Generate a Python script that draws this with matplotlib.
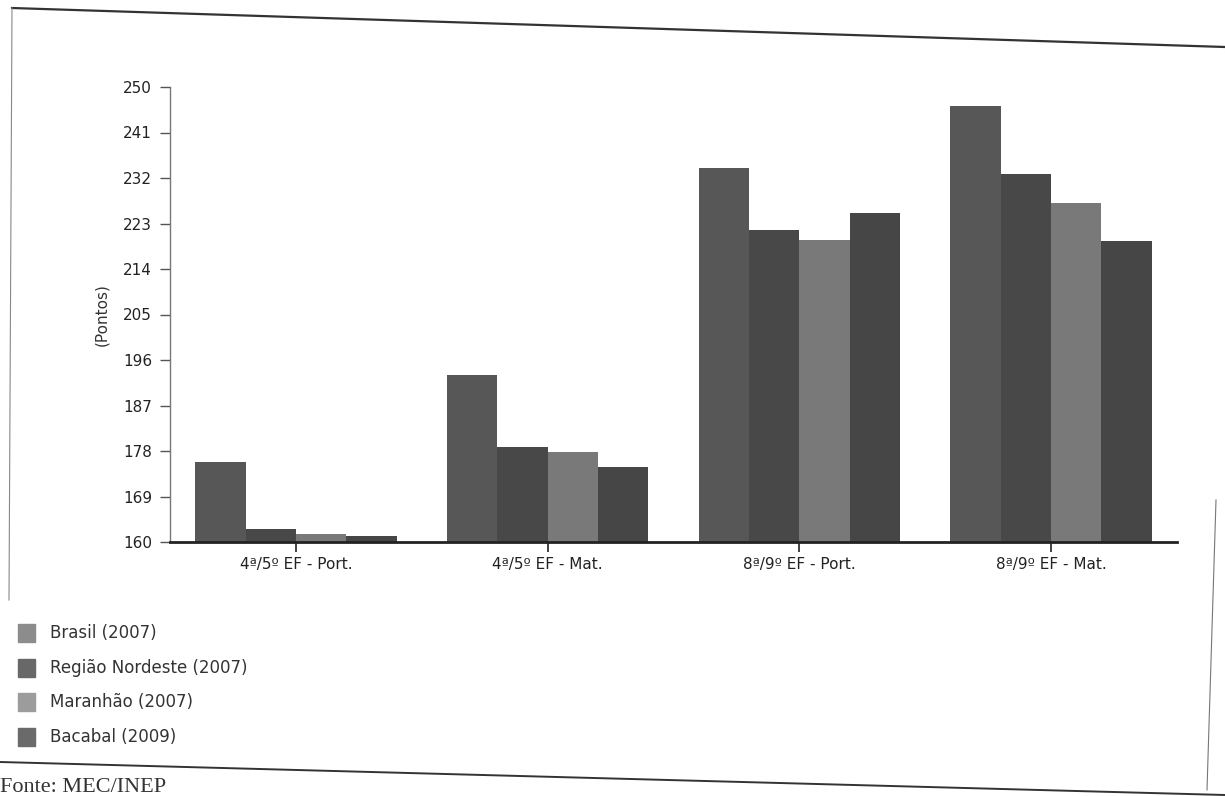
import matplotlib
matplotlib.use("Agg")
import matplotlib.pyplot as plt
import numpy as np
from matplotlib.lines import Line2D
from matplotlib.patches import Rectangle

categories = ["4ª/5º EF - Port.", "4ª/5º EF - Mat.", "8ª/9º EF - Port.", "8ª/9º EF - Mat."]
series_names = ["Brasil (2007)", "Região Nordeste (2007)", "Maranhão (2007)", "Bacabal (2009)"]
brasil = [175.9, 193.1, 233.9, 246.2]
nordeste = [162.6, 178.8, 221.8, 232.7]
maranhao = [161.6, 177.8, 219.7, 227.0]
bacabal = [161.2, 174.8, 225.0, 219.5]
yticks = [160, 169, 178, 187, 196, 205, 214, 223, 232, 241, 250]

values = [brasil, nordeste, maranhao, bacabal]
colors = ["#575757", "#484848", "#797979", "#464646"]
legend_colors = ["#8c8c8c", "#686868", "#9c9c9c", "#6a6a6a"]

W, H = 1225, 796
fig = plt.figure(figsize=(W / 100, H / 100), dpi=100)
ax = fig.add_axes([170 / W, 1 - 542 / H, (1177 - 170) / W, (542 - 87) / H])

x = np.arange(len(categories))
bw = 0.2
for i, (vals, c) in enumerate(zip(values, colors)):
    ax.bar(x + (i - 1.5) * bw, np.array(vals) - 160, bw, bottom=160, color=c,
           edgecolor="none", zorder=2)

ax.set_xlim(-0.5, 3.5)
ax.set_ylim(160, 250)
ax.set_yticks(yticks)
ax.set_yticklabels([str(t) for t in yticks], fontsize=11, color="#222222")
ax.set_xticks(x)
ax.set_xticklabels(categories, fontsize=11, color="#222222")
ax.tick_params(axis="y", direction="out", length=7, width=1, color="#555555", pad=6)
ax.tick_params(axis="x", direction="out", length=7, width=1.3, color="#333333", pad=4)
for s in ["top", "right"]:
    ax.spines[s].set_visible(False)
ax.spines["left"].set_color("#777777")
ax.spines["left"].set_linewidth(1)
ax.spines["bottom"].set_color("#222222")
ax.spines["bottom"].set_linewidth(2)
ax.set_ylabel("(Pontos)", fontsize=11, labelpad=10, color="#333333")

# legend
for i, (name, c) in enumerate(zip(series_names, legend_colors)):
    yc = 633 + i * 34.7
    fig.add_artist(Rectangle((18 / W, 1 - (yc + 9) / H), 17 / W, 18 / H,
                             transform=fig.transFigure, color=c))
    fig.text(50 / W, 1 - yc / H, name, fontsize=12, va="center", ha="left",
             color="#333333")

fig.text(0 / W, 1 - 778 / H, "Fonte: MEC/INEP", fontsize=16, family="Liberation Serif",
         va="top", ha="left", color="#333333")

# scanned frame lines
def fline(x0, y0, x1, y1, lw=1.5, c="#333333"):
    fig.add_artist(Line2D([x0 / W, x1 / W], [1 - y0 / H, 1 - y1 / H],
                          transform=fig.transFigure, color=c, lw=lw))

fline(12, 8, 1225, 47, lw=1.6)
fline(12, 8, 9, 600, lw=0.8, c="#888888")
fline(0, 762, 1225, 795, lw=1.4)
fline(1216, 500, 1207, 790, lw=0.8, c="#777777")

fig.savefig("out.png", dpi=100)
